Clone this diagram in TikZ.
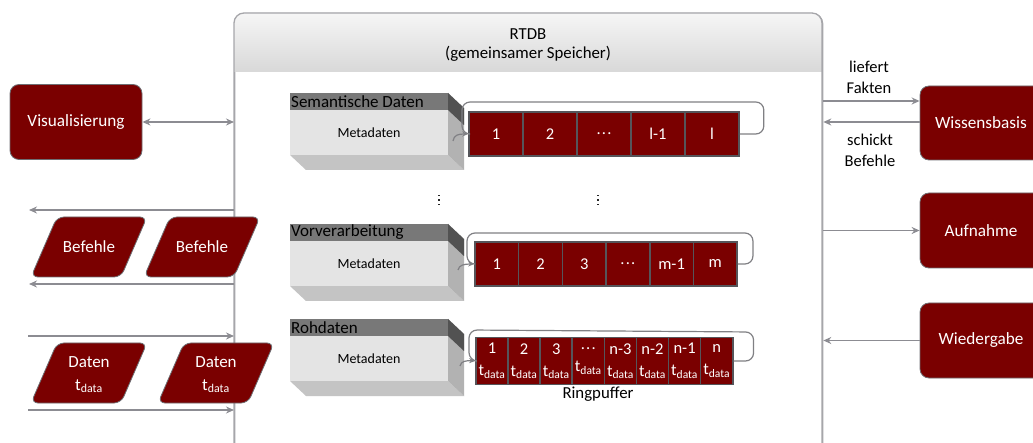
\documentclass[tikz,border=0pt]{standalone}
\usepackage{fontspec}
\setmainfont{Carlito}
\usetikzlibrary{arrows.meta,calc}

\definecolor{darkred}{RGB}{122,0,0}
\definecolor{linegrey}{RGB}{140,140,146}
\definecolor{loopgrey}{RGB}{128,128,132}
\definecolor{cellborder}{RGB}{85,85,90}
\definecolor{boxborder}{RGB}{110,110,115}
\definecolor{rtdbline}{RGB}{166,166,170}
\definecolor{hdtop}{RGB}{246,246,246}
\definecolor{hdbot}{RGB}{216,216,216}
\definecolor{headfill}{RGB}{120,120,120}
\definecolor{frontfill}{RGB}{228,228,228}
\definecolor{sidefill}{RGB}{178,178,178}
\definecolor{sidedark}{RGB}{82,82,82}
\definecolor{botfill}{RGB}{196,196,196}

% baseline dots used inside the buffer cells
\newcommand\celldots{.\kern1.2pt.\kern1.2pt.}

% one memory block: name, top edge, title
\newcommand\memblock[3]{%
  \fill[botfill] (290,{#2+62}) -- (448,{#2+62}) -- (464,{#2+77}) -- (306,{#2+77}) -- cycle;
  \fill[sidefill] (448,#2) -- (464,{#2+15}) -- (464,{#2+77}) -- (448,{#2+62}) -- cycle;
  \fill[sidedark] (448,#2) -- (464,{#2+15}) -- (464,{#2+32}) -- (448,{#2+17}) -- cycle;
  \fill[headfill] (290,#2) rectangle (448,{#2+17});
  \fill[frontfill] (290,{#2+17}) rectangle (448,{#2+62});
  \node[anchor=west, inner sep=0, font=\fontsize{17pt}{19pt}\selectfont] (#1title) at (291,{#2+8.5}) {#3};
  \node[inner sep=0, font=\fontsize{14pt}{16pt}\selectfont] (#1meta) at (369,{#2+40}) {Metadaten};
}

\begin{document}
\begin{tikzpicture}[x=1pt,y=-1pt,
  redbox/.style={fill=darkred, draw=boxborder, line width=0.8pt, rounded corners=9pt,
    text=white, inner sep=0, font=\fontsize{17.2pt}{19pt}\selectfont},
  slantbox/.style={fill=darkred, draw=boxborder, line width=0.8pt, rounded corners=7pt},
  slanttext/.style={text=white, inner sep=0, align=center, font=\fontsize{17pt}{22.5pt}\selectfont},
  cellbox/.style={fill=darkred, draw=cellborder, line width=1.6pt, text=white, inner sep=0,
    font=\fontsize{16.5pt}{18pt}\selectfont},
  conn/.style={draw=linegrey, line width=1.4pt, -{Stealth[length=8pt,width=7pt]}},
  twoway/.style={draw=linegrey, line width=1.4pt, {Stealth[length=8pt,width=7pt]}-{Stealth[length=8pt,width=7pt]}},
  loopline/.style={draw=loopgrey, line width=1.2pt},
  lbl/.style={inner sep=0, align=center, font=\fontsize{16.5pt}{21pt}\selectfont},
  dotmark/.style={fill=black!85, minimum size=1.8pt, inner sep=0}
]
\useasboundingbox (0,0) rectangle (1033,443);
\clip (0,0) rectangle (1033,443);

% shared memory frame
\node[draw=rtdbline, line width=1.3pt, rounded corners=10pt, fill=white,
      minimum width=588pt, minimum height=470pt, anchor=north west, inner sep=0] (rtdb) at (234,13) {};
\begin{scope}
  \clip[rounded corners=10pt] (234,13) rectangle (822,483);
  \fill[top color=hdtop, bottom color=hdbot] (234,13) rectangle (822,72);
\end{scope}
\draw[rtdbline, line width=1.3pt, rounded corners=10pt] (234,483) -- (234,13) -- (822,13) -- (822,483);
\node[lbl, font=\fontsize{16.8pt}{19pt}\selectfont] (rtdbtitle) at (528,45) {RTDB\\(gemeinsamer Speicher)};

% memory blocks
\memblock{sem}{93}{Semantische Daten}
\memblock{vor}{224}{Vorverarbeitung}
\memblock{roh}{319}{Rohdaten}

% ring buffer: semantic data
\foreach \lab [count=\i] in {1,2,\celldots,l-1,l}
  \node[cellbox, minimum width=54pt, minimum height=44pt] (ra\i) at ({496+54*(\i-1)},134) {\lab};
\draw[loopline, rounded corners=8pt] (ra5.east) -- ++(24,0) -- ++(0,-32) -- (462,102) -- (462,134) -- (ra1.west);
\draw[loopline, -{Stealth[length=6pt,width=5pt]}] (453,141) .. controls (454,135) and (458,134) .. (ra1.west);

% ring buffer: preprocessing
\foreach \lab [count=\i] in {1,2,3,\celldots,m-1,m}
  \node[cellbox, minimum width=43.7pt, minimum height=44pt] (rb\i) at ({496.8+43.7*(\i-1)},264) {\lab};
\draw[loopline, rounded corners=8pt] (rb6.east) -- ++(15,0) -- ++(0,-31) -- (467,233) -- (467,264) -- (rb1.west);
\draw[loopline, -{Stealth[length=6pt,width=5pt]}] (458,270) .. controls (459,265) and (464,264) .. (rb1.west);

% ring buffer: raw data
\foreach \lab [count=\i] in {1,2,3,\celldots,n-3,n-2,n-1,n}
  \node[cellbox, minimum width=32.1pt, minimum height=47pt, align=center,
        font=\fontsize{16.5pt}{22pt}\selectfont] (rc\i) at ({492+32.1*(\i-1)},361) {\lab\\t\textsubscript{data}};
\draw[loopline, rounded corners=8pt] (rc8.east) -- ++(20,0) -- ++(0,-29) -- (469,330) -- (469,360.5) -- (rc1.west);
\draw[loopline, -{Stealth[length=6pt,width=5pt]}] (460,366) .. controls (461,361) and (466,360.5) .. (rc1.west);
\node[lbl, font=\fontsize{16.8pt}{19pt}\selectfont] (ringlabel) at (598,394) {Ringpuffer};

% vertical ellipsis between the blocks
\foreach \x/\nm in {439/da, 598/db}{
  \node[dotmark] (\nm1) at (\x,195.5) {};
  \node[dotmark] (\nm2) at (\x,200) {};
  \node[dotmark] (\nm3) at (\x,204.5) {};
}

% left side
\node[redbox, minimum width=132pt, minimum height=75pt] (vis) at (76,122) {Visualisierung};
\draw[twoway] (vis.east) -- (vis.east -| rtdb.west);

\coordinate (befout1) at (29,210);
\coordinate (befout2) at (29,284);
\draw[conn] (befout1 -| rtdb.west) -- (befout1);
\draw[conn] (befout2 -| rtdb.west) -- (befout2);
\draw[slantbox] (57,217) -- (147,217) -- (121,277) -- (31,277) -- cycle;
\draw[slantbox] (170,217) -- (260,217) -- (234,277) -- (144,277) -- cycle;
\node[slanttext] (bef1) at (89,247) {Befehle};
\node[slanttext] (bef2) at (202,247) {Befehle};

\coordinate (datin1) at (28,336);
\coordinate (datin2) at (28,410);
\draw[conn] (datin1) -- (datin1 -| rtdb.west);
\draw[conn] (datin2) -- (datin2 -| rtdb.west);
\draw[slantbox] (57,343) -- (147,343) -- (121,403) -- (31,403) -- cycle;
\draw[slantbox] (184,343) -- (274,343) -- (248,403) -- (158,403) -- cycle;
\node[slanttext] (dat1) at (89,375) {Daten\\t\textsubscript{data}};
\node[slanttext] (dat2) at (216,375) {Daten\\t\textsubscript{data}};

% right side
\node[redbox, minimum width=122pt, minimum height=74pt] (wissen) at (981,123) {Wissensbasis};
\node[redbox, minimum width=122pt, minimum height=75pt] (aufn) at (981,230.5) {Aufnahme};
\node[redbox, minimum width=122pt, minimum height=75pt] (wieder) at (981,340.5) {Wiedergabe};

\coordinate (fakt) at (870,101);
\coordinate (befin) at (870,122);
\draw[conn] (fakt -| rtdb.east) -- (fakt -| wissen.west);
\draw[conn] (befin -| wissen.west) -- (befin -| rtdb.east);
\node[lbl] (faktlbl) at (869,77) {liefert\\Fakten};
\node[lbl] (beflbl) at (870,150) {schickt\\Befehle};

\draw[conn] (aufn.west -| rtdb.east) -- (aufn.west);
\draw[conn] (wieder.west) -- (wieder.west -| rtdb.east);
\end{tikzpicture}
\end{document}
